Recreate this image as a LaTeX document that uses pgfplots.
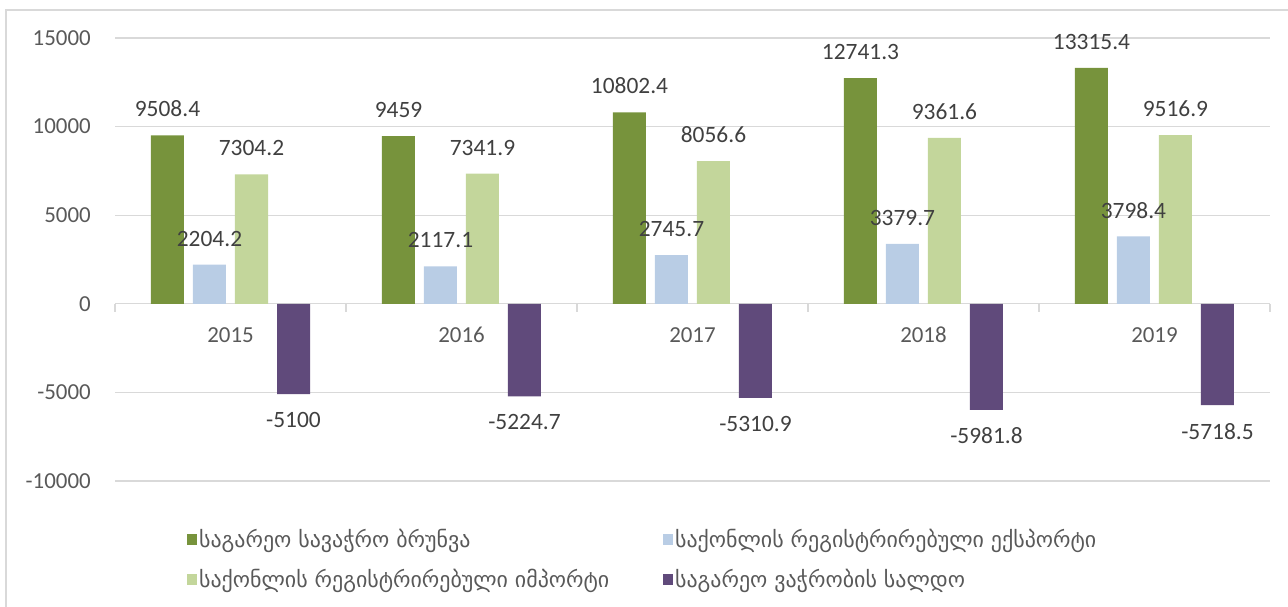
\documentclass[border=0pt]{standalone}
\usepackage{fontspec}
\setmainfont{Carlito}
\newfontfamily\geo{DejaVu Sans}
\usepackage{pgfplots}
\pgfplotsset{compat=1.18}
\usepackage{pgfplotstable}
\definecolor{cA}{HTML}{77933C}
\definecolor{cB}{HTML}{B9CDE5}
\definecolor{cC}{HTML}{C3D69B}
\definecolor{cD}{HTML}{604A7B}
\definecolor{gridc}{HTML}{D9D9D9}
\definecolor{tickc}{HTML}{595959}
\definecolor{labc}{HTML}{404040}

\pgfplotstableread{
x A B C D
0 9508.4 2204.2 7304.2 -5100
1 9459 2117.1 7341.9 -5224.7
2 10802.4 2745.7 8056.6 -5310.9
3 12741.3 3379.7 9361.6 -5981.8
4 13315.4 3798.4 9516.9 -5718.5
}\data

\begin{document}
\begin{tikzpicture}[x=1bp,y=1bp]
\useasboundingbox (0,0) rectangle (1288,607);
\draw[gridc, line width=1.2bp] (6,0) -- (6,597) -- (1288,597);
\begin{axis}[
 at={(115bp,126bp)}, anchor=south west,
 scale only axis, width=1155bp, height=443bp,
 ybar=9bp, bar width=33bp,
 xmin=-0.5, xmax=4.5, ymin=-10000, ymax=15000,
 xtick={0,1,2,3,4}, xticklabels={2015,2016,2017,2018,2019},
 ytick={-10000,-5000,0,5000,10000,15000},
 scaled y ticks=false,
 axis line style={draw=none},
 major tick length=0pt,
 ymajorgrids, grid style={gridc, line width=1.2bp},
 clip=false,
 /pgf/number format/assume math mode=true,
 /pgf/number format/1000 sep={},
 /pgf/number format/fixed,
 /pgf/number format/precision=1,
 tick label style={font=\fontsize{23}{28}\selectfont, text=tickc},
 yticklabel style={anchor=east, inner sep=0pt, xshift=-24bp},
 xticklabel style={anchor=center, inner sep=0pt, yshift=146bp},
 nodes near coords,
 every node near coord/.append style={font=\fontsize{23.5}{28}\selectfont, text=labc, inner ysep=18bp, inner xsep=0pt},
 legend columns=2,
 legend style={draw=none, fill=none, at={(0.0623,-0.104)}, anchor=north west,
   inner sep=0pt, font=\geo\fontsize{22}{26}\selectfont, text=tickc,
   row sep=16bp, column sep=0pt,
   nodes={inner xsep=2bp, inner ysep=2bp}},
 legend cell align=left,
 legend image code/.code={\fill[#1] (0bp,-5.5bp) rectangle (10bp,5.5bp);},
]
\addplot[fill=cA, draw=none] table[x=x, y=A] {\data};
\addlegendentry{\makebox[462bp][l]{საგარეო სავაჭრო ბრუნვა}}
\addplot[fill=cB, draw=none] table[x=x, y=B] {\data};
\addlegendentry{საქონლის რეგისტრირებული ექსპორტი}
\addplot[fill=cC, draw=none] table[x=x, y=C] {\data};
\addlegendentry{\makebox[462bp][l]{საქონლის რეგისტრირებული იმპორტი}}
\addplot[fill=cD, draw=none] table[x=x, y=D] {\data};
\addlegendentry{საგარეო ვაჭრობის სალდო}
\pgfplotsinvokeforeach{-0.5,0.5,1.5,2.5,3.5,4.5}{
  \draw[gridc, line width=1.2bp] (axis cs:#1,0) -- ++(0bp,-8bp);
}
\end{axis}
\end{tikzpicture}
\end{document}
